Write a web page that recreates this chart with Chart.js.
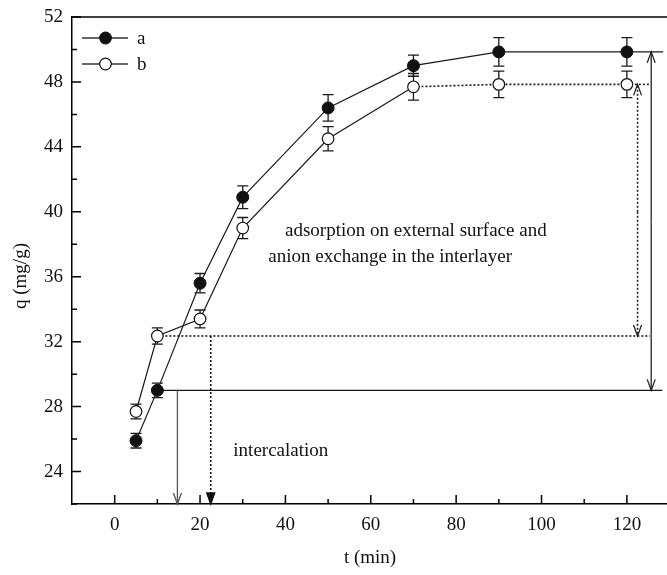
<!DOCTYPE html>
<html lang="en">
  <head>
    <meta charset="UTF-8" />
    <title>q vs t</title>
    <script src="https://cdn.jsdelivr.net/npm/chart.js@4.4.1/dist/chart.umd.min.js"></script>
    <style>
      body { margin: 0; background: #fff; }
      canvas { display: block; }
    </style>
  </head>
  <body>
    <canvas id="myChart" width="667" height="575"></canvas>
    <script>
      // data
      const times = [5, 10, 20, 30, 50, 70, 90, 120];
      const qA = [25.9, 29.0, 35.6, 40.9, 46.4, 49.0, 49.85, 49.85];
      const qB = [27.7, 32.35, 33.4, 39.0, 44.5, 47.7, 47.85, 47.85];
      const errA = [0.45, 0.45, 0.6, 0.7, 0.82, 0.65, 0.88, 0.88];
      const errB = [0.45, 0.5, 0.55, 0.65, 0.75, 0.82, 0.82, 0.82];
      const xTicks = [0, 20, 40, 60, 80, 100, 120];
      const xMinor = [10, 30, 50, 70, 90, 110];
      const yTicks = [24, 28, 32, 36, 40, 44, 48, 52];
      const yMinor = [22, 26, 30, 34, 38, 42, 46, 50];

      // annotation lines in data units: [t1, q1, t2, q2, dotted]
      const guideLines = [
        [10, 29.0, 128.3, 29.0, false],
        [10, 32.35, 125.4, 32.35, true],
        [120, 49.85, 128.5, 49.85, false],
        [120, 47.85, 125.4, 47.85, true],
      ];
      // arrows: [t, qFrom, qTo, dotted, filledHead, color]
      const arrows = [
        [125.7, 39.4, 49.85, false, false, "#222"],
        [125.7, 39.4, 29.0, false, false, "#222"],
        [122.5, 40, 47.85, true, false, "#222"],
        [122.5, 40, 32.35, true, false, "#222"],
        [14.7, 29.0, 22, false, false, "#555"],
        [22.5, 32.35, 22, true, true, "#111"],
      ];
      const notes = [
        ["adsorption on external surface and", 39.9, 38.5],
        ["anion exchange in the interlayer", 36.0, 36.9],
        ["intercalation", 27.8, 24.95],
      ];

      const FONT = "'Liberation Serif', 'DejaVu Serif', serif";
      const INK = "#1a1a1a";

      function head(ctx, x, y, dir, filled) {
        // dir: 1 = pointing down, -1 = pointing up
        ctx.save();
        ctx.setLineDash([]);
        ctx.beginPath();
        ctx.moveTo(x - 4, y - dir * 11);
        ctx.lineTo(x, y);
        ctx.lineTo(x + 4, y - dir * 11);
        if (filled) {
          ctx.closePath();
          ctx.fill();
        }
        ctx.stroke();
        ctx.restore();
      }

      const extras = {
        id: "extras",
        beforeDatasetsDraw(chart) {
          const ctx = chart.ctx;
          const xs = chart.scales.x;
          const ys = chart.scales.y;
          const ca = chart.chartArea;
          ctx.save();
          // top frame line
          ctx.strokeStyle = "#000";
          ctx.lineWidth = 1.5;
          ctx.beginPath();
          ctx.moveTo(ca.left, ca.top);
          ctx.lineTo(ca.right, ca.top);
          ctx.stroke();

          // inward ticks
          ctx.beginPath();
          xTicks.forEach((v) => {
            const px = xs.getPixelForValue(v);
            ctx.moveTo(px, ca.bottom);
            ctx.lineTo(px, ca.bottom - 9);
          });
          xMinor.forEach((v) => {
            const px = xs.getPixelForValue(v);
            ctx.moveTo(px, ca.bottom);
            ctx.lineTo(px, ca.bottom - 5);
          });
          yTicks.forEach((v) => {
            const py = ys.getPixelForValue(v);
            ctx.moveTo(ca.left, py);
            ctx.lineTo(ca.left + 9, py);
          });
          yMinor.forEach((v) => {
            const py = ys.getPixelForValue(v);
            ctx.moveTo(ca.left, py);
            ctx.lineTo(ca.left + 5, py);
          });
          ctx.stroke();

          // guide lines
          guideLines.forEach(([t1, q1, t2, q2, dotted]) => {
            ctx.strokeStyle = INK;
            ctx.lineWidth = dotted ? 1.6 : 1.4;
            ctx.setLineDash(dotted ? [2, 2] : []);
            ctx.beginPath();
            ctx.moveTo(xs.getPixelForValue(t1), ys.getPixelForValue(q1));
            ctx.lineTo(xs.getPixelForValue(t2), ys.getPixelForValue(q2));
            ctx.stroke();
          });

          // arrows
          arrows.forEach(([t, qa, qb, dotted, filled, col]) => {
            const px = xs.getPixelForValue(t);
            const pa = ys.getPixelForValue(qa);
            const pb = ys.getPixelForValue(qb);
            ctx.strokeStyle = col;
            ctx.fillStyle = col;
            ctx.lineWidth = dotted ? 1.6 : 1.3;
            ctx.setLineDash(dotted ? [2, 2] : []);
            ctx.beginPath();
            ctx.moveTo(px, pa);
            ctx.lineTo(px, pb);
            ctx.stroke();
            ctx.lineWidth = 1.3;
            head(ctx, px, pb, pb > pa ? 1 : -1, filled);
          });
          ctx.setLineDash([]);

          // error bars
          ctx.strokeStyle = INK;
          ctx.lineWidth = 1.3;
          [[qA, errA], [qB, errB]].forEach(([vals, errs]) => {
            vals.forEach((v, i) => {
              const px = xs.getPixelForValue(times[i]);
              const top = ys.getPixelForValue(v + errs[i]);
              const bot = ys.getPixelForValue(v - errs[i]);
              ctx.beginPath();
              ctx.moveTo(px, top);
              ctx.lineTo(px, bot);
              ctx.moveTo(px - 5.5, top);
              ctx.lineTo(px + 5.5, top);
              ctx.moveTo(px - 5.5, bot);
              ctx.lineTo(px + 5.5, bot);
              ctx.stroke();
            });
          });
          ctx.restore();
        },
        afterDraw(chart) {
          const ctx = chart.ctx;
          const xs = chart.scales.x;
          const ys = chart.scales.y;
          ctx.save();
          ctx.fillStyle = "#111";
          ctx.font = "19px " + FONT;
          ctx.textBaseline = "alphabetic";
          ctx.textAlign = "left";
          notes.forEach(([txt, t, q]) => {
            ctx.fillText(txt, xs.getPixelForValue(t), ys.getPixelForValue(q));
          });

          // axis titles
          ctx.textAlign = "center";
          ctx.textBaseline = "middle";
          ctx.fillText("t (min)", 370, 558);
          ctx.save();
          ctx.translate(21, 276);
          ctx.rotate(-Math.PI / 2);
          ctx.fillText("q (mg/g)", 0, 0);
          ctx.restore();

          // legend
          const rows = [["a", "#111", 38], ["b", "#fff", 64]];
          rows.forEach(([lab, fill, y]) => {
            ctx.strokeStyle = "#333";
            ctx.lineWidth = 1.3;
            ctx.beginPath();
            ctx.moveTo(82, y);
            ctx.lineTo(128, y);
            ctx.stroke();
            ctx.beginPath();
            ctx.arc(105.5, y, 5.8, 0, Math.PI * 2);
            ctx.fillStyle = fill;
            ctx.fill();
            ctx.strokeStyle = "#111";
            ctx.lineWidth = 1.2;
            ctx.stroke();
            ctx.fillStyle = "#111";
            ctx.textAlign = "left";
            ctx.textBaseline = "middle";
            ctx.fillText(lab, 137, y + 1);
          });
          ctx.restore();
        },
      };

      const ctx = document.getElementById("myChart");
      new Chart(ctx, {
        type: "line",
        data: {
          datasets: [
            {
              label: "a",
              data: times.map((t, i) => ({ x: t, y: qA[i] })),
              borderColor: INK,
              borderWidth: 1.2,
              pointRadius: 6,
              pointBackgroundColor: "#111",
              pointBorderColor: "#111",
              pointBorderWidth: 1,
              tension: 0,
            },
            {
              label: "b",
              data: times.map((t, i) => ({ x: t, y: qB[i] })),
              borderColor: INK,
              borderWidth: 1.2,
              pointRadius: 5.8,
              pointBackgroundColor: "#fff",
              pointBorderColor: "#111",
              pointBorderWidth: 1.2,
              tension: 0,
              segment: {
                borderDash: (c) => (c.p0.parsed.x >= 70 ? [2, 2] : undefined),
                borderWidth: (c) => (c.p0.parsed.x >= 70 ? 1.6 : 1.2),
              },
            },
          ],
        },
        options: {
          responsive: false,
          animation: false,
          clip: false,
          layout: {
            autoPadding: false,
            padding: { top: 17, right: 0, left: 0, bottom: 0 },
          },
          plugins: {
            legend: { display: false },
            tooltip: { enabled: false },
          },
          scales: {
            x: {
              type: "linear",
              min: -10,
              max: 129.4,
              afterBuildTicks: (s) => {
                s.ticks = xTicks.map((v) => ({ value: v }));
              },
              afterFit: (s) => {
                s.height = 71;
                s.paddingLeft = 0;
                s.paddingRight = 0;
              },
              grid: { display: false, drawTicks: false },
              border: { display: true, color: "#000", width: 1.5 },
              ticks: {
                padding: 10,
                color: "#111",
                font: { family: FONT, size: 19 },
                maxRotation: 0,
              },
            },
            y: {
              type: "linear",
              min: 22,
              max: 52,
              afterBuildTicks: (s) => {
                s.ticks = yTicks.map((v) => ({ value: v }));
              },
              afterFit: (s) => {
                s.width = 72;
                s.paddingTop = 0;
                s.paddingBottom = 0;
              },
              grid: { display: false, drawTicks: false },
              border: { display: true, color: "#000", width: 1.5 },
              ticks: {
                padding: 9,
                color: "#111",
                font: { family: FONT, size: 19 },
              },
            },
          },
        },
        plugins: [extras],
      });
    </script>
  </body>
</html>
